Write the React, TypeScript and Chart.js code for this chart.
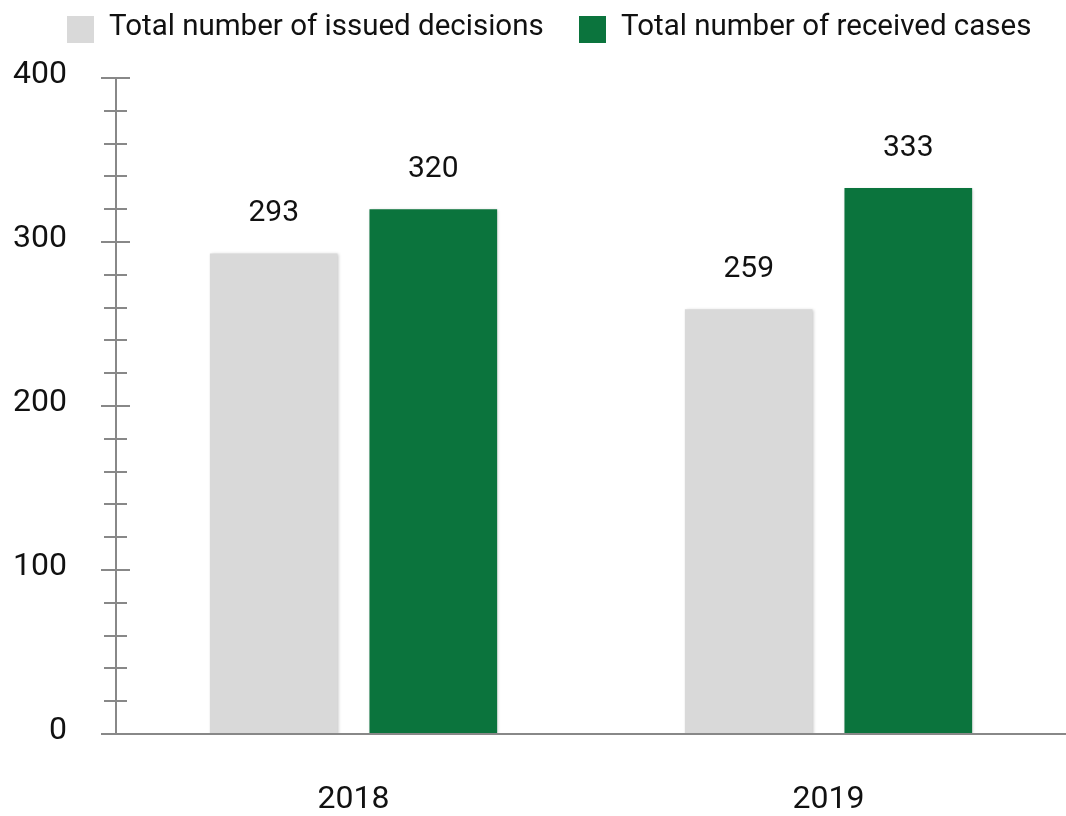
import React, { useEffect, useRef } from "react";
import { Chart, registerables } from "chart.js";

Chart.register(...registerables);

const categories = ["2018", "2019"];
const issuedDecisions = [293, 259];
const receivedCases = [320, 333];
const seriesLabels = ["Total number of issued decisions", "Total number of received cases"];
const yTickValues = [0, 100, 200, 300, 400];
const minorStep = 20;

const GREY = "#D9D9D9";
const GREEN = "#0B743D";
const AXIS = "#888888";
const TEXT = "#111111";
const FONT = "Roboto, 'Noto Sans', sans-serif";

const shadowPlugin = {
  id: "barShadow",
  beforeDatasetsDraw(chart: any) {
    const ctx = chart.ctx;
    ctx.save();
    ctx.shadowColor = "rgba(0,0,0,0.22)";
    ctx.shadowBlur = 3;
    ctx.shadowOffsetX = 1;
    ctx.shadowOffsetY = 1;
  },
  afterDatasetsDraw(chart: any) {
    chart.ctx.restore();
  },
};

const decorPlugin = {
  id: "decor",
  afterDraw(chart: any) {
    const ctx = chart.ctx;
    const y = chart.scales.y;
    const x = chart.scales.x;
    const area = chart.chartArea;
    const axisX = area.left;
    ctx.save();

    // y axis line
    ctx.strokeStyle = AXIS;
    ctx.lineWidth = 2;
    ctx.beginPath();
    ctx.moveTo(axisX, y.getPixelForValue(y.max));
    ctx.lineTo(axisX, y.getPixelForValue(0));
    ctx.stroke();

    // tick marks
    for (let v = y.min; v <= y.max; v += minorStep) {
      const py = Math.round(y.getPixelForValue(v));
      const major = v % 100 === 0;
      ctx.beginPath();
      if (v === 0) {
        ctx.moveTo(axisX - 15, py);
        ctx.lineTo(chart.width, py);
      } else if (major) {
        ctx.moveTo(axisX - 15, py);
        ctx.lineTo(axisX + 14, py);
      } else {
        ctx.moveTo(axisX - 12, py);
        ctx.lineTo(axisX + 11, py);
      }
      ctx.stroke();
    }

    // y labels
    ctx.fillStyle = TEXT;
    ctx.font = `32px ${FONT}`;
    ctx.textAlign = "right";
    ctx.textBaseline = "alphabetic";
    yTickValues.forEach((v) => {
      ctx.fillText(String(v), axisX - 49, y.getPixelForValue(v) + 5);
    });

    // x labels
    ctx.textAlign = "center";
    chart.data.labels.forEach((lab: string, i: number) => {
      ctx.fillText(lab, x.getPixelForValue(i), area.bottom + 74);
    });

    // data labels
    ctx.font = `30px ${FONT}`;
    chart.data.datasets.forEach((ds: any, di: number) => {
      const meta = chart.getDatasetMeta(di);
      meta.data.forEach((bar: any, i: number) => {
        ctx.fillText(String(ds.data[i]), bar.x, bar.y - 32);
      });
    });

    // legend
    const boxX = [67, 579];
    ctx.font = `29.5px ${FONT}`;
    ctx.textAlign = "left";
    chart.data.datasets.forEach((ds: any, di: number) => {
      ctx.fillStyle = ds.backgroundColor;
      ctx.fillRect(boxX[di], 16, 27, 27);
      ctx.fillStyle = TEXT;
      ctx.fillText(ds.label, boxX[di] + 42, 35);
    });

    ctx.restore();
  },
};

export default function App() {
  const ref = useRef<HTMLCanvasElement | null>(null);
  useEffect(() => {
    if (!ref.current) return;
    const chart = new Chart(ref.current, {
      type: "bar",
      data: {
        labels: categories,
        datasets: [
          {
            label: seriesLabels[0],
            data: issuedDecisions,
            backgroundColor: GREY,
            borderWidth: 0,
          },
          {
            label: seriesLabels[1],
            data: receivedCases,
            backgroundColor: GREEN,
            borderWidth: 0,
          },
        ],
      },
      options: {
        responsive: false,
        animation: false,
        layout: { padding: { left: 116, right: 0, top: 78, bottom: 82 } },
        datasets: {
          bar: { categoryPercentage: 0.672, barPercentage: 0.8 },
        },
        scales: {
          x: { display: false, offset: true },
          y: { display: false, min: 0, max: 400 },
        },
        plugins: {
          legend: { display: false },
          tooltip: { enabled: false },
        },
      },
      plugins: [shadowPlugin, decorPlugin],
    });
    return () => chart.destroy();
  }, []);
  return (
    <div style={{ position: "absolute", left: 0, top: 0, width: 1066, height: 816, background: "#fff" }}>
      <canvas ref={ref} width={1066} height={816} />
    </div>
  );
}
